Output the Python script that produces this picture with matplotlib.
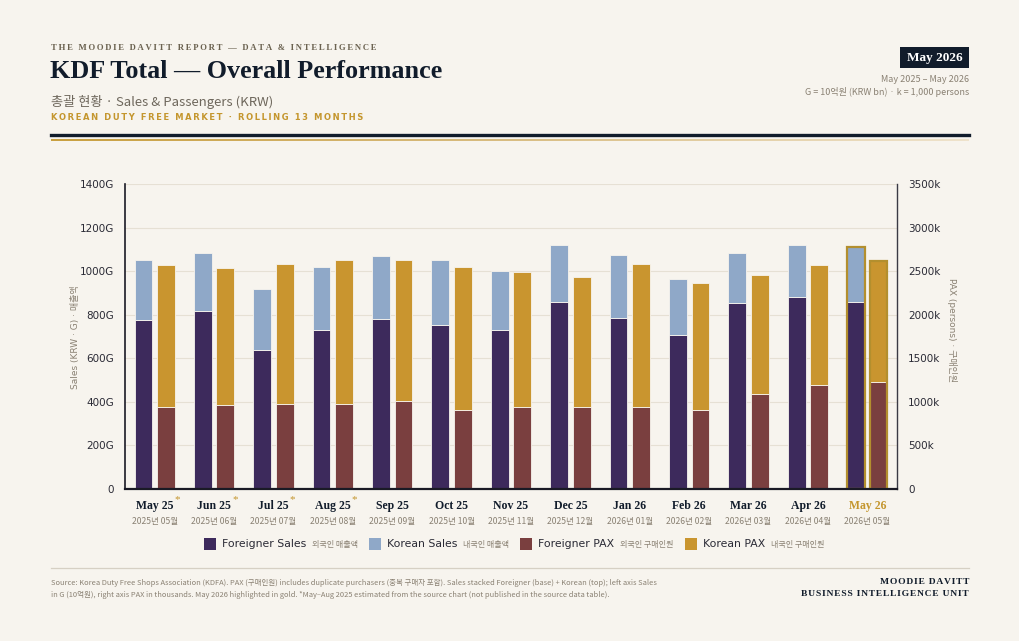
import matplotlib
matplotlib.use("Agg")
import matplotlib.pyplot as plt
from matplotlib.patches import Rectangle
from matplotlib.colors import LinearSegmentedColormap
import numpy as np

# Data (G = 10억원, k = 1,000 persons)
months = ['May 25', 'Jun 25', 'Jul 25', 'Aug 25', 'Sep 25', 'Oct 25', 'Nov 25',
          'Dec 25', 'Jan 26', 'Feb 26', 'Mar 26', 'Apr 26', 'May 26']
months_kr = ['2025년 05월', '2025년 06월', '2025년 07월', '2025년 08월', '2025년 09월',
             '2025년 10월', '2025년 11월', '2025년 12월', '2026년 01월', '2026년 02월',
             '2026년 03월', '2026년 04월', '2026년 05월']
estimated = [True, True, True, True, False, False, False, False, False, False, False, False, False]
foreign_sales = [775, 819, 636, 729, 781, 752, 729, 859, 787, 706, 853, 880, 857]
korean_sales = [276, 266, 282, 289, 287, 298, 271, 263, 286, 258, 232, 242, 253]
foreign_pax = [940, 966, 978, 978, 1010, 906, 936, 936, 944, 909, 1089, 1192, 1230]
korean_pax = [1628, 1571, 1605, 1651, 1615, 1642, 1559, 1502, 1639, 1456, 1364, 1379, 1391]

BG = '#f7f4ee'
NAVY = '#111c2b'
GOLD = '#c4962e'
C_FS = '#3d2a5c'
C_KS = '#8fa8c8'
C_FP = '#7a3f3f'
C_KP = '#c9952f'
GRAY = '#8a8173'

W, H = 1020, 641
fig = plt.figure(figsize=(W / 100, H / 100), dpi=100, facecolor=BG)


def fx(px):
    return px / W


def fy(py):
    return 1 - py / H


KR = ['Noto Sans CJK KR', 'DejaVu Sans']
SANS_KR = ['DejaVu Sans', 'Noto Sans CJK KR']
SERIF = ['Liberation Serif', 'DejaVu Serif']


def spaced(s, sep='\u2009'):
    return sep.join(s)


# header
fig.text(fx(51), fy(48), spaced('THE MOODIE DAVITT REPORT — DATA & INTELLIGENCE'),
         family=SERIF, weight='bold', fontsize=6.2, color='#6b6250', va='center')
fig.text(fx(50), fy(72), 'KDF Total — Overall Performance', family=SERIF,
         weight='bold', fontsize=18.8, color=NAVY, va='center')
fig.text(fx(51), fy(102), '총괄 현황 · Sales & Passengers (KRW)', family=KR,
         fontsize=9.5, color='#6e675c', va='center')
fig.text(fx(51), fy(117), spaced('KOREAN DUTY FREE MARKET · ROLLING 13 MONTHS'),
         family=['DejaVu Sans'], weight='bold', fontsize=6, color=GOLD, va='center')

fig.add_artist(plt.Line2D([fx(51), fx(969)], [fy(135), fy(135)], color=NAVY, lw=2.4))
# gold rule fading to the right
gax = fig.add_axes([fx(51), fy(141), (969 - 51) / W, 2 / H])
gax.axis('off')
fade = LinearSegmentedColormap.from_list('fade', ['#c9a040', '#d9bd82', '#efe3cc'])
gax.imshow(np.linspace(0, 1, 256)[None, :], aspect='auto', cmap=fade,
           extent=[0, 1, 0, 1])

# top right badge
fig.patches.append(Rectangle((fx(900), fy(68)), fx(69), 21 / H, transform=fig.transFigure,
                             facecolor=NAVY, edgecolor='none'))
fig.text(fx(934.5), fy(57.5), 'May 2026', family=SERIF, weight='bold', fontsize=9.5,
         color='white', ha='center', va='center')
fig.text(fx(969), fy(80), 'May 2025 – May 2026', family=KR, fontsize=6.5, color=GRAY,
         ha='right', va='center')
fig.text(fx(969), fy(92), 'G = 10억원 (KRW bn) · k = 1,000 persons', family=KR, fontsize=6.5,
         color=GRAY, ha='right', va='center')

# chart
ax = fig.add_axes([fx(125), fy(489), (897 - 125) / W, (489 - 184) / H])
ax.set_facecolor(BG)
ax2 = ax.twinx()

x = np.arange(len(months))
bw = 0.30
off = 0.19

ax.bar(x - off, foreign_sales, bw, color=C_FS, edgecolor=BG, linewidth=0.6, zorder=3)
ax.bar(x - off, korean_sales, bw, bottom=foreign_sales, color=C_KS, edgecolor=BG,
       linewidth=0.6, zorder=3)
ax2.bar(x + off, foreign_pax, bw, color=C_FP, edgecolor=BG, linewidth=0.6, zorder=3)
ax2.bar(x + off, korean_pax, bw, bottom=foreign_pax, color=C_KP, edgecolor=BG,
        linewidth=0.6, zorder=3)

# highlight last month
last = len(months) - 1
ax.bar(x[last] - off, foreign_sales[last] + korean_sales[last], bw, color='none',
       edgecolor='#b38f2e', linewidth=1.6, zorder=4)
ax2.bar(x[last] + off, foreign_pax[last] + korean_pax[last], bw, color='none',
        edgecolor='#b38f2e', linewidth=1.6, zorder=4)

ax.set_xlim(-0.5, len(months) - 0.5)
ax.set_ylim(0, 1400)
ax2.set_ylim(0, 3500)
ax.set_yticks(np.arange(0, 1401, 200))
ax.set_yticklabels(['0'] + [f'{v}G' for v in range(200, 1401, 200)])
ax2.set_yticks(np.arange(0, 3501, 500))
ax2.set_yticklabels(['0'] + [f'{v}k' for v in range(500, 3501, 500)])
ax.grid(axis='y', color='#e6e0d4', linewidth=0.8, zorder=0)
ax.set_axisbelow(True)
for a in (ax, ax2):
    a.tick_params(axis='y', length=0, labelsize=7.5, labelcolor='#2a2a35', pad=8)
    for s in a.spines.values():
        s.set_visible(False)
# axis lines drawn on the top (twin) axes so the bars sit on them
for side, lw, col in (('left', 1.2, '#1a1a25'), ('bottom', 1.6, '#1a1a25'),
                      ('right', 1.0, '#3a3a45')):
    sp = ax2.spines[side]
    sp.set_visible(True)
    sp.set_color(col)
    sp.set_linewidth(lw)
    sp.set_zorder(6)
ax.set_xticks([])
ax2.set_xticks([])

fig.text(fx(76), fy(337), 'Sales (KRW · G) · 매출액', family=SANS_KR, fontsize=6.5,
         color=GRAY, rotation=90, ha='center', va='center')
fig.text(fx(952), fy(330), 'PAX (persons) · 구매인원', family=SANS_KR, fontsize=6.5,
         color=GRAY, rotation=270, ha='center', va='center')

# x labels
trans = ax.get_xaxis_transform()
fig.canvas.draw()
renderer = fig.canvas.get_renderer()
for i, (m, mk) in enumerate(zip(months, months_kr)):
    col = GOLD if i == last else NAVY
    t = ax.text(x[i], -0.055, m, transform=trans, family=SERIF, weight='bold',
                fontsize=8.5, color=col, ha='center', va='center')
    ax.text(x[i], -0.105, mk, transform=trans, family=KR, fontsize=6.2, color=GRAY,
            ha='center', va='center')
    if estimated[i]:
        bb = t.get_window_extent(renderer)
        fig.text(bb.x1 / W + 1 / W, fy(500), '*', family=SERIF, fontsize=8,
                 color=GOLD, ha='left', va='center')

# legend
items = [('Foreigner Sales', '외국인 매출액', C_FS, 204),
         ('Korean Sales', '내국인 매출액', C_KS, 369),
         ('Foreigner PAX', '외국인 구매인원', C_FP, 520),
         ('Korean PAX', '내국인 구매인원', C_KP, 685)]
for lab, lab_kr, c, px in items:
    fig.patches.append(Rectangle((fx(px), fy(550)), 12 / W, 12 / H, transform=fig.transFigure,
                                 facecolor=c, edgecolor='none'))
    t = fig.text(fx(px + 18), fy(544), lab, family=['DejaVu Sans'], fontsize=7.8,
                 color='#2a2a35', va='center')
    bb = t.get_window_extent(renderer)
    fig.text(bb.x1 / W + 6 / W, fy(545), lab_kr, family=KR, fontsize=5.8, color=GRAY,
             va='center')

# footer
fig.add_artist(plt.Line2D([fx(51), fx(969)], [fy(568), fy(568)], color='#d6d0c4', lw=0.9))
fig.text(fx(51), fy(583), 'Source: Korea Duty Free Shops Association (KDFA). PAX (구매인원) includes '
         'duplicate purchasers (중복 구매자 포함). Sales stacked Foreigner (base) + Korean (top); '
         'left axis Sales', family=KR, fontsize=5.4, color=GRAY, va='center')
fig.text(fx(51), fy(595), 'in G (10억원), right axis PAX in thousands. May 2026 highlighted in gold. '
         '*May–Aug 2025 estimated from the source chart (not published in the source data table).',
         family=KR, fontsize=5.4, color=GRAY, va='center')
fig.text(fx(969), fy(582), spaced('MOODIE DAVITT', '\u200a'), family=SERIF, weight='bold',
         fontsize=6.8, color=NAVY, ha='right', va='center')
fig.text(fx(969), fy(594), spaced('BUSINESS INTELLIGENCE UNIT', '\u200a'), family=SERIF,
         weight='bold', fontsize=6.8, color=NAVY, ha='right', va='center')

fig.savefig('out.png', dpi=100, facecolor=BG)
